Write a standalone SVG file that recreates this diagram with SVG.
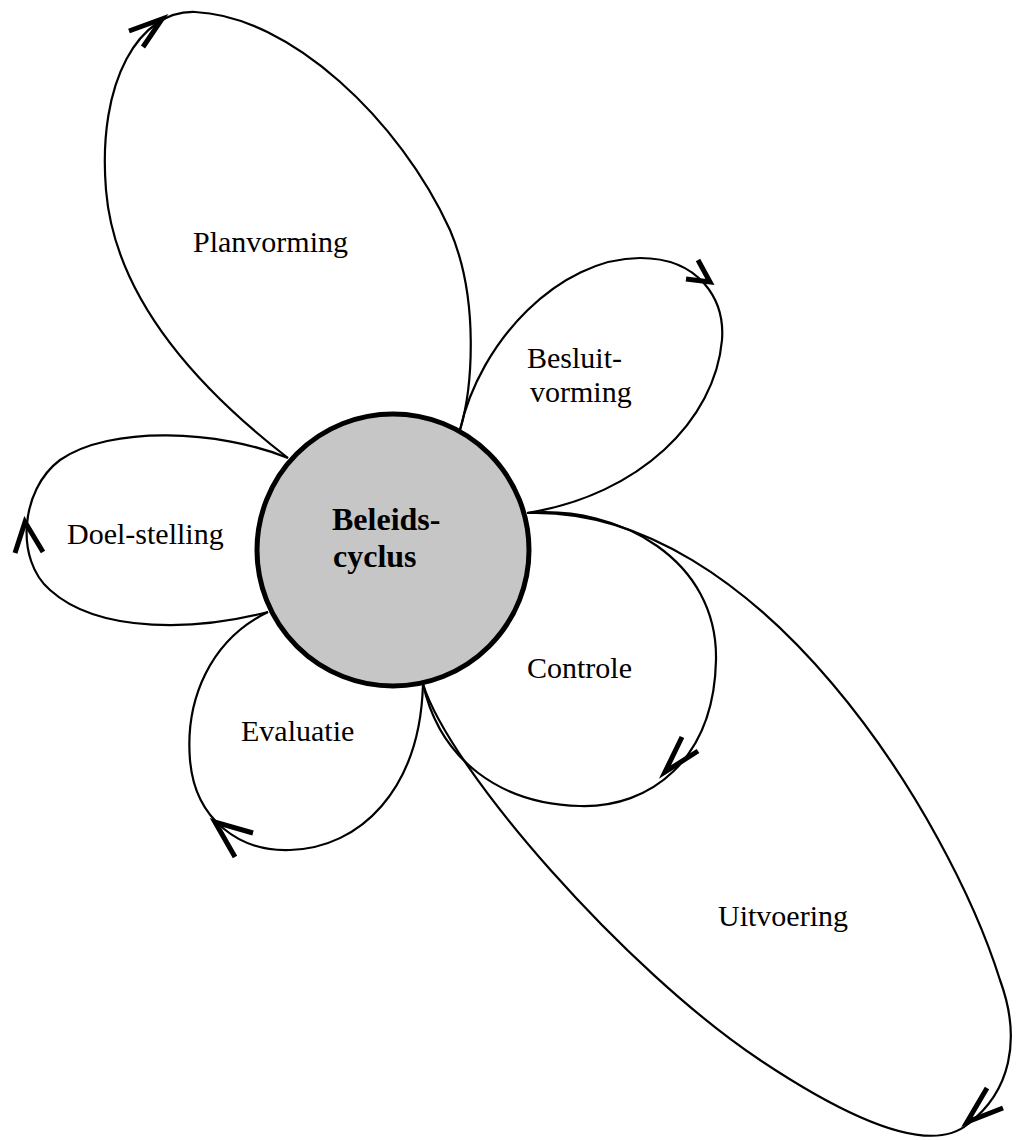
<svg xmlns="http://www.w3.org/2000/svg" width="1016" height="1140" viewBox="0 0 1016 1140">
<style>
.petal{fill:none;stroke:#000;stroke-width:2.2}
.arrow{fill:none;stroke:#000;stroke-width:5;stroke-linecap:butt;stroke-linejoin:miter}
.lbl{font-family:"Liberation Serif","Times New Roman",serif;font-size:30px;fill:#000}
.hub{font-family:"Liberation Serif","Times New Roman",serif;font-size:32px;font-weight:bold;fill:#000}
</style>
<rect width="1016" height="1140" fill="#fff"/>
<g id="connectors">
<path id="p-planvorming" class="petal" d="M288,458 C200,390 115,300 106,190 C97,80 140,10 195,12 C290,16 400,120 450,230 C480,300 472,390 460,430"/>
<path id="p-besluitvorming" class="petal" d="M460,430 C480,340 560,258 640,258 C700,258 725,300 722,340 C715,420 640,495 527,513"/>
<path id="p-doelstelling" class="petal" d="M288,458 C220,430 110,425 60,460 C20,490 15,560 50,590 C100,635 200,630 268,612"/>
<path id="p-evaluatie" class="petal" d="M268,612 C210,640 185,700 190,760 C195,820 240,852 290,850 C360,848 420,790 423,684"/>
<path id="p-controle" class="petal" d="M527,513 C620,505 718,560 716,660 C714,760 650,808 580,806 C500,804 440,760 423,684"/>
<path id="p-uitvoering" class="petal" d="M527,513 C760,505 950,820 1000,980 C1022,1040 1010,1092 968,1124 C930,1156 850,1120 760,1060 C625,970 450,770 423,684"/>
<polyline class="arrow" points="129,31 162,19 143,47"/>
<polyline class="arrow" points="698,260 710,282 686,279"/>
<polyline class="arrow" points="15,553 25,522 43,552"/>
<polyline class="arrow" points="253,833 215,822 235,857"/>
<polyline class="arrow" points="682,737 665,772 698,751"/>
<polyline class="arrow" points="987,1088 967,1122 1003,1108"/>
</g>
<g id="node-beleidscyclus">
<circle cx="393" cy="550" r="136" fill="#c6c6c6" stroke="#000" stroke-width="5"/>
<text class="hub" x="332" y="530">Beleids-</text>
<text class="hub" x="333" y="567">cyclus</text>
</g>
<g id="node-planvorming"><text class="lbl" x="193" y="252">Planvorming</text></g>
<g id="node-besluitvorming"><text class="lbl" x="527" y="368">Besluit-</text><text class="lbl" x="530" y="402">vorming</text></g>
<g id="node-doelstelling"><text class="lbl" x="67" y="544">Doel-stelling</text></g>
<g id="node-controle"><text class="lbl" x="527" y="678">Controle</text></g>
<g id="node-evaluatie"><text class="lbl" x="241" y="741">Evaluatie</text></g>
<g id="node-uitvoering"><text class="lbl" x="718" y="926">Uitvoering</text></g>
</svg>
